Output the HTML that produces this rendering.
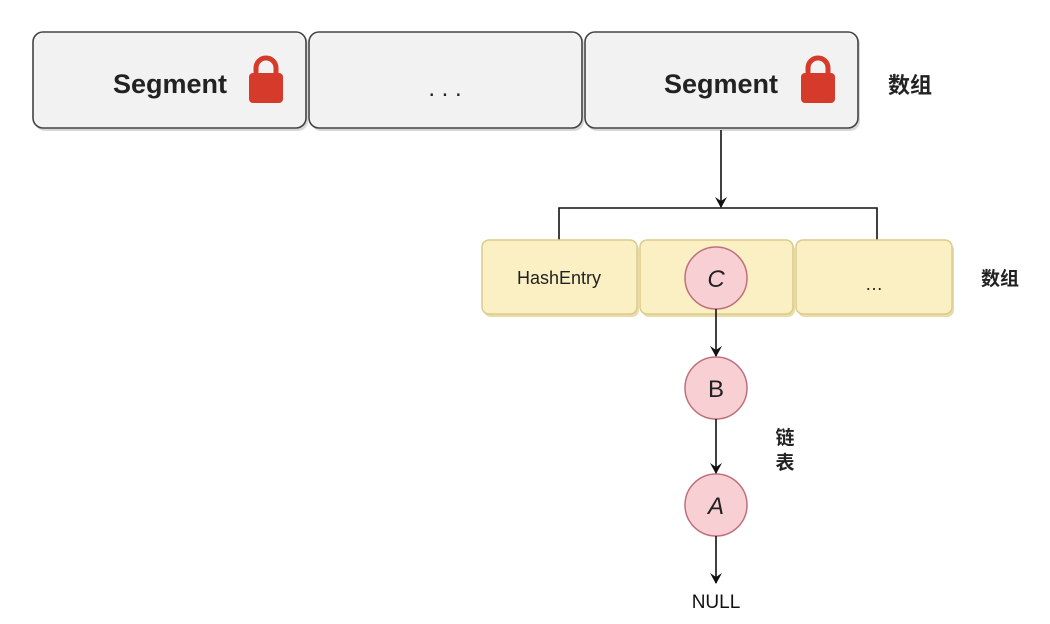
<!DOCTYPE html>
<html><head><meta charset="utf-8"><style>
html,body{margin:0;padding:0;background:#fff;}
svg{display:block;}
text{font-family:"Liberation Sans","Noto Sans CJK SC",sans-serif;}
</style></head><body>
<svg width="1050" height="624" viewBox="0 0 1050 624" xmlns="http://www.w3.org/2000/svg">
<defs>
<marker id="ar" markerWidth="12" markerHeight="12" refX="10" refY="6" orient="auto" markerUnits="userSpaceOnUse">
<path d="M0,0 L11,6 L0,12 L4,6 Z" fill="#111"/>
</marker>
</defs>
<!-- top boxes -->
<g fill="#f2f2f2" stroke="#444" stroke-width="1.6">
<rect x="35" y="34" width="273" height="97" rx="10" fill="#d8d8d8" stroke="none"/>
<rect x="311" y="34" width="273" height="97" rx="10" fill="#d8d8d8" stroke="none"/>
<rect x="587" y="34" width="273" height="97" rx="10" fill="#d8d8d8" stroke="none"/>
<rect x="33" y="32" width="273" height="96" rx="10"/>
<rect x="309" y="32" width="273" height="96" rx="10"/>
<rect x="585" y="32" width="273" height="96" rx="10"/>
</g>
<g font-size="27" font-weight="bold" fill="#222" text-anchor="middle">
<text x="170" y="93">Segment</text>
<text x="721" y="93">Segment</text>
<text x="445" y="96" font-weight="normal" font-size="24">. . .</text>
</g>
<!-- locks -->
<g>
<path d="M256,74 v-6 a10,10 0 0 1 20,0 v6" fill="none" stroke="#d63a2a" stroke-width="5"/>
<rect x="249" y="73" width="34" height="30" rx="4" fill="#d63a2a"/>
<path d="M808,74 v-6 a10,10 0 0 1 20,0 v6" fill="none" stroke="#d63a2a" stroke-width="5"/>
<rect x="801" y="73" width="34" height="30" rx="4" fill="#d63a2a"/>
</g>
<text x="910" y="93" font-size="22" font-weight="bold" fill="#222" text-anchor="middle">数组</text>
<!-- arrow down to bracket -->
<line x1="721" y1="130" x2="721" y2="207" stroke="#111" stroke-width="1.6" marker-end="url(#ar)"/>
<path d="M559,240 V208 H877 V240" fill="none" stroke="#111" stroke-width="1.6"/>
<!-- yellow boxes -->
<g fill="#fbf0c4" stroke="#dccb8c" stroke-width="1.5">
<rect x="484" y="243" width="155" height="74" rx="7" fill="#e8dca8" stroke="none"/>
<rect x="642" y="243" width="153" height="74" rx="7" fill="#e8dca8" stroke="none"/>
<rect x="798" y="243" width="156" height="74" rx="7" fill="#e8dca8" stroke="none"/>
<rect x="482" y="240" width="155" height="74" rx="7"/>
<rect x="640" y="240" width="153" height="74" rx="7"/>
<rect x="796" y="240" width="156" height="74" rx="7"/>
</g>
<text x="559" y="284" font-size="18" fill="#222" text-anchor="middle">HashEntry</text>
<text x="874" y="290" font-size="18" fill="#222" text-anchor="middle">…</text>
<text x="1000" y="285" font-size="19" font-weight="bold" fill="#222" text-anchor="middle">数组</text>
<!-- circles -->
<g fill="#f8d0d4" stroke="#c0707c" stroke-width="1.5">
<circle cx="716" cy="278" r="31"/>
<circle cx="716" cy="388" r="31"/>
<circle cx="716" cy="505" r="31"/>
</g>
<g font-size="24" fill="#222" text-anchor="middle">
<text x="716" y="287" font-style="italic">C</text>
<text x="716" y="397">B</text>
<text x="716" y="514" font-style="italic">A</text>
</g>
<g stroke="#111" stroke-width="1.6">
<line x1="716" y1="309" x2="716" y2="356" marker-end="url(#ar)"/>
<line x1="716" y1="419" x2="716" y2="473" marker-end="url(#ar)"/>
<line x1="716" y1="536" x2="716" y2="583" marker-end="url(#ar)"/>
</g>
<text x="716" y="608" font-size="19" fill="#111" text-anchor="middle">NULL</text>
<text x="785" y="444" font-size="19" font-weight="bold" fill="#222" text-anchor="middle">链</text>
<text x="785" y="469" font-size="19" font-weight="bold" fill="#222" text-anchor="middle">表</text>
</svg>
</body></html>
